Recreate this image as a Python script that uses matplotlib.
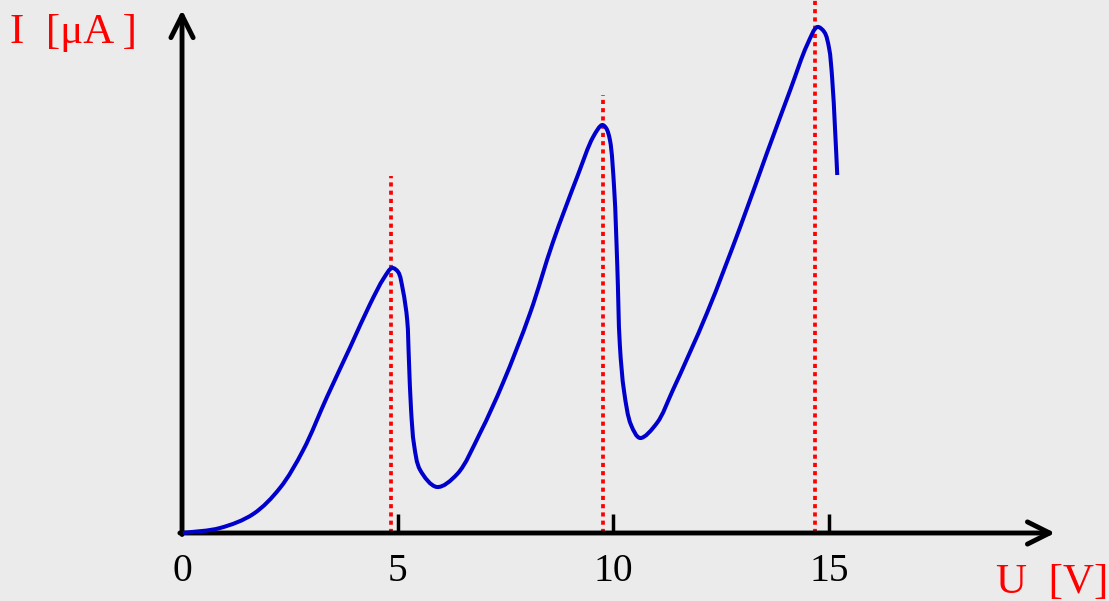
import numpy as np
import matplotlib
matplotlib.use("Agg")
import matplotlib.pyplot as plt
from matplotlib.path import Path
from matplotlib.patches import PathPatch

# Franck-Hertz curve, values
u_volts = [0.02, 0.88, 1.65, 2.27, 2.81, 3.36, 3.90, 4.36, 4.68, 4.87,
           5.01, 5.12, 5.22, 5.26, 5.31, 5.38, 5.52, 5.91, 6.38, 6.91,
           7.44, 8.07, 8.60, 9.16, 9.53, 9.74, 9.83, 9.92, 10.02, 10.09,
           10.15, 10.25, 10.41, 10.62, 11.01, 11.38, 12.17, 12.94, 13.56, 14.10,
           14.49, 14.73, 14.89, 15.00, 15.07, 15.14, 15.19]
i_micro = [0.0, 0.5, 1.9, 4.5, 8.3, 13.6, 18.6, 22.9, 25.5, 26.5,
           26.1, 24.3, 21.3, 17.3, 12.3, 8.8, 6.3, 4.6, 5.9, 10.0,
           15.0, 22.0, 29.1, 35.6, 39.6, 40.8, 40.5, 39.3, 34.3, 26.8,
           18.8, 14.1, 10.8, 9.5, 11.0, 14.3, 22.0, 30.6, 38.0, 44.3,
           48.8, 50.6, 50.1, 48.5, 45.6, 40.3, 35.8]

peak_u = [4.85, 9.76, 14.68]
peak_line_top = [35.7, 43.8, 53.3]

tick_vals = [0, 5, 10, 15]
tick_labels = ["0", "5", "10", "15"]

bg = "#ebebeb"
serif = "Liberation Serif"


def smooth_path(x, y, sx=43.13, sy=10.0, alpha=0.5):
    # centripetal Catmull-Rom through the read points, as cubic Bezier segments
    p = np.column_stack([np.asarray(x) * sx, np.asarray(y) * sy])
    p = np.vstack([2 * p[0] - p[1], p, 2 * p[-1] - p[-2]])
    verts = [p[1]]
    codes = [Path.MOVETO]
    for k in range(1, len(p) - 2):
        p0, p1, p2, p3 = p[k - 1], p[k], p[k + 1], p[k + 2]
        d1 = max(np.linalg.norm(p1 - p0), 1e-6) ** alpha
        d2 = max(np.linalg.norm(p2 - p1), 1e-6) ** alpha
        d3 = max(np.linalg.norm(p3 - p2), 1e-6) ** alpha
        b1 = (d1**2 * p2 - d2**2 * p0 + (2 * d1**2 + 3 * d1 * d2 + d2**2) * p1) / (3 * d1 * (d1 + d2))
        b2 = (d3**2 * p1 - d2**2 * p3 + (2 * d3**2 + 3 * d3 * d2 + d2**2) * p2) / (3 * d3 * (d3 + d2))
        verts += [b1, b2, p2]
        codes += [Path.CURVE4] * 3
    verts = np.array(verts) / [sx, sy]
    return Path(verts, codes)


fig = plt.figure(figsize=(11.09, 6.01), dpi=100, facecolor=bg)
ax = fig.add_axes([0, 0, 1, 1])
ax.set_facecolor(bg)
ax.set_xlim(-4.22, 21.49)
ax.set_ylim(-6.8, 53.3)
ax.axis("off")

# axes with arrow heads
arrow = dict(arrowstyle="->", lw=3.5, color="black", mutation_scale=40,
             shrinkA=0, shrinkB=0)
ax.annotate("", xy=(20.24, 0), xytext=(-0.05, 0), arrowprops=arrow)
ax.annotate("", xy=(0, 52.3), xytext=(0, -0.15), arrowprops=arrow)

# tick marks and labels
ax.vlines(tick_vals[1:], 0, 1.9, color="black", lw=2.5)
for v, lab in zip(tick_vals, tick_labels):
    ax.text(v, -4.8, lab, fontsize=28.5, family=serif, ha="center",
            va="baseline", color="black")

# dotted markers at the peaks
ax.vlines(peak_u, 0, peak_line_top, color="#ff0000", lw=2.7,
          linestyles=(0, (1.1, 1.1)), zorder=2)

ax.add_patch(PathPatch(smooth_path(u_volts, i_micro), fill=False,
                       edgecolor="#0000cc", lw=2.9, capstyle="butt",
                       joinstyle="round", zorder=3))

ax.text(-3.99, 49.0, "I  [\u03bcA ]", fontsize=31, family=serif,
        color="#ff0000", ha="left", va="baseline")
ax.text(18.87, -6.0, "U  [V]", fontsize=31, family=serif,
        color="#ff0000", ha="left", va="baseline")

fig.savefig("out.png", dpi=100, facecolor=bg)
